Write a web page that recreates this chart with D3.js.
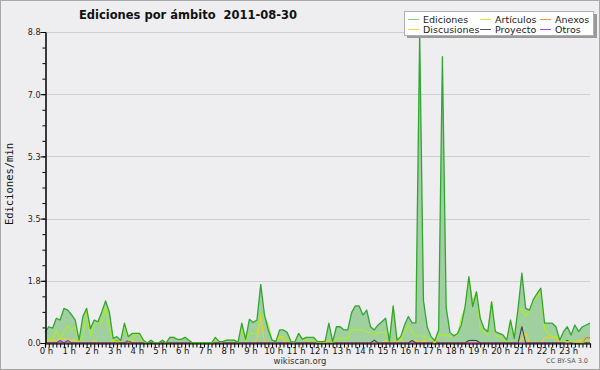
<!DOCTYPE html>
<html><head><meta charset="utf-8">
<script src="https://cdn.jsdelivr.net/npm/d3@7"></script>
<style>
html,body{margin:0;padding:0;background:#eeeef0;}
svg{display:block;}
text{font-family:"DejaVu Sans",sans-serif;}
</style></head>
<body>
<svg id="chart" width="600" height="370"></svg>
<script>
// ---- data (10-minute steps, 0 h .. 24 h) ----
const title = "Ediciones por ámbito  2011-08-30";
const yLabel = "Ediciones/min";
const hourLabels = d3.range(24).map(h => h + " h");
const yTicks = [0, 1.76, 3.52, 5.28, 7.04, 8.8];
const yTickLabels = ["0.0", "1.8", "3.5", "5.3", "7.0", "8.8"];
const seriesNames = ["Ediciones", "Artículos", "Anexos", "Discusiones", "Proyecto", "Otros"];

const ediciones = [0.3,0.46,0.42,0.7,0.65,0.98,0.93,0.8,0.65,0.08,0.75,0.98,0.41,0.65,0.6,0.88,1.19,0.88,0.13,0.18,
  0.07,0.56,0.18,0.27,0.27,0.27,0.08,0,0.08,0,0,0.08,0,0.16,0.16,0.1,0.1,0.16,0.08,0,
  0,0,0,0,0,0.16,0.04,0.04,0.08,0.08,0.08,0.02,0.56,0.1,0.67,0.58,0.65,1.66,0.79,0.37,
  0.08,0.04,0.37,0.37,0.3,0.04,0.02,0.27,0.11,0.16,0.16,0.16,0.04,0.04,0.04,0.56,0.04,0.46,0.46,0.37,
  0.37,0.86,1.05,1.05,0.79,0.93,0.46,0.37,0.51,0.6,0.7,0.04,1.05,0.08,0.18,0.51,0.75,0.57,0.57,8.75,
  1.2,0.45,0.18,0.07,0.37,8.1,1.0,0.3,0.2,0.27,0.51,1.03,1.88,1.03,1.45,0.7,0.41,0.32,1.16,0.32,
  0.27,0.23,0.08,0.65,0.13,0.98,1.98,0.98,0.93,1.22,1.4,1.55,0.56,0.56,0.56,0.46,0.08,0.32,0.46,0.23,
  0.51,0.32,0.46,0.51,0.56];
const articulos = [0.08,0.13,0.1,0.37,0.1,0.32,0.48,0.37,0.46,0.04,0.18,0.89,0.18,0.51,0.56,0.56,1.03,0.4,0.04,0.06,
  0.04,0.51,0.08,0.08,0.27,0.18,0.04,0,0.08,0,0,0.08,0,0.16,0.16,0.1,0.1,0.16,0.08,0,
  0,0,0,0,0,0.1,0.04,0.04,0.08,0.08,0.08,0.02,0.42,0.04,0.27,0.27,0.27,0.84,0.75,0.5,
  0.08,0.04,0.18,0.18,0.1,0.04,0.02,0.27,0.11,0.08,0.08,0.08,0.02,0.02,0.02,0.04,0.02,0.13,0.13,0.13,
  0.13,0.37,0.37,0.37,0.37,0.3,0.3,0.23,0.3,0.3,0.32,0.04,1.03,0.04,0.1,0.3,0.51,0.3,0.2,0.2,
  0.2,0.13,0.1,0,0.23,0.23,0.23,0.18,0.23,0.23,0.7,1.0,1.8,1.17,1.45,0.4,0.3,0.25,1.17,0.2,
  0.18,0.08,0.05,0.56,0.13,0.89,0.98,0.75,0.9,1.22,1.3,1.45,0.4,0.25,0.2,0.18,0.13,0.04,0.04,0.04,
  0.02,0.02,0,0.08,0.08];
const anexos = new Array(145).fill(0);
anexos[103] = 0.07; anexos[143] = 0.15; anexos[144] = 0.15;
const discusiones = new Array(145).fill(0);
[[0,0.08],[1,0.08],[2,0.08],[3,0.08],[4,0.1],[5,0.13],[6,0.08],[7,0.08],[8,0.08],[13,0.08],[18,0.08],[23,0.08],
 [56,0.1],[57,0.74],[62,0.2],[63,0.08],[74,0.08],[90,0.08],[93,0.15],[94,0.13],[98,0.08],[100,0.08],
 [126,0.1],[127,0.27],[132,0.15],[133,0.15],[134,0.15],[135,0.15],[141,0.08],[142,0.08]].forEach(([i,v]) => discusiones[i] = v);
const proyecto = new Array(145).fill(0);
[[87,0.08],[97,0.07],[112,0.07],[113,0.08],[114,0.07],[126,0.46],[138,0.07]].forEach(([i,v]) => proyecto[i] = v);
const otros = new Array(145).fill(0);
[[4,0.07],[6,0.07],[19,0.07],[22,0.07]].forEach(([i,v]) => otros[i] = v);

// ---- drawing ----
const svg = d3.select("#chart");
const W = 600, H = 370;
const m = {left: 45, right: 10, top: 32, bottom: 27};
const x = d3.scaleLinear().domain([0, 24]).range([m.left, W - m.right]);
const y = d3.scaleLinear().domain([0, 8.8]).range([H - m.bottom, m.top]);
const tOf = i => i / 6;

svg.append("rect").attr("x",0.5).attr("y",0.5).attr("width",W-1).attr("height",H-1)
  .attr("fill","#eeeef0").attr("stroke","#a8a8a8");

// grid
svg.append("g").selectAll("line").data(yTicks.slice(1)).join("line")
  .attr("x1", m.left).attr("x2", W - m.right)
  .attr("y1", d => Math.round(y(d)) + 0.5).attr("y2", d => Math.round(y(d)) + 0.5)
  .attr("stroke", "#cfcfd2").attr("stroke-width", 1);

// area + lines
const area = d3.area().x((d,i) => x(tOf(i))).y0(y(0)).y1(d => y(d));
const line = d3.line().x((d,i) => x(tOf(i))).y(d => y(d));
svg.append("path").datum(ediciones).attr("d", area).attr("fill", "#a0cfa0");

const lines = [
  {data: discusiones, color: "#ffcc22"},
  {data: anexos, color: "#ff6a3a"},
  {data: otros, color: "#8a2be2"},
  {data: proyecto, color: "#444444"},
  {data: articulos, color: "#aaf020"},
  {data: ediciones, color: "#33a533"}
];
lines.forEach(s => {
  svg.append("path").datum(s.data).attr("d", line).attr("fill", "none")
    .attr("stroke", s.color).attr("stroke-width", s.data === ediciones ? 1.3 : 1.1)
    .attr("stroke-linejoin", "round");
});

// y axis
const yAxis = d3.axisLeft(y).tickValues(d3.range(0, 21).map(k => k * 0.44))
  .tickSize(3).tickFormat("");
const gy = svg.append("g").attr("transform", `translate(${m.left + 0.5},0)`).call(yAxis);
gy.select(".domain").attr("stroke", "#000");
gy.selectAll(".tick line").attr("stroke", "#000");
const yMajor = d3.axisLeft(y).tickValues(yTicks).tickSize(5)
  .tickFormat((d,i) => yTickLabels[i]);
const gy2 = svg.append("g").attr("transform", `translate(${m.left + 0.5},0)`).call(yMajor);
gy2.select(".domain").attr("stroke", "#000");
gy2.selectAll(".tick line").attr("stroke", "#000");
gy2.selectAll(".tick text").style("font-family", "DejaVu Sans").style("font-size", "8px")
  .attr("fill", "#222").attr("x", -5).attr("dy", "0.35em");

// x axis
const xAxis = d3.axisBottom(x).tickValues(d3.range(0, 145).map(i => i / 6)).tickSize(4).tickFormat("");
const gx = svg.append("g").attr("transform", `translate(0,${y(0) + 0.5})`).call(xAxis);
gx.select(".domain").attr("stroke", "#000").attr("stroke-width", 1.2);
gx.selectAll(".tick line").attr("stroke", "#000");
svg.append("g").selectAll("text").data(hourLabels).join("text")
  .attr("x", (d,i) => x(i) + 1.5).attr("y", 354)
  .attr("text-anchor", "middle").style("font-size", "8.5px").attr("fill", "#111").text(d => d);

// labels
svg.append("text").attr("x", 188).attr("y", 19).attr("text-anchor", "middle")
  .style("white-space", "pre")
  .attr("font-weight", "bold").style("font-size", "11.5px").attr("fill", "#111").text(title);
svg.append("text").attr("transform", "translate(13,184) rotate(-90)").attr("text-anchor", "middle")
  .style("font-family", "'DejaVu Sans Mono', monospace").style("font-size", "10.5px").attr("fill", "#111").text(yLabel);
svg.append("text").attr("x", 300).attr("y", 364).attr("text-anchor", "middle")
  .style("font-size", "8.5px").attr("fill", "#333").text("wikiscan.org");
svg.append("text").attr("x", 588).attr("y", 363).attr("text-anchor", "end")
  .style("font-size", "6.5px").attr("fill", "#555").text("CC BY-SA 3.0");

// legend
const lg = svg.append("g");
lg.append("rect").attr("x", 407).attr("y", 14).attr("width", 190).attr("height", 24).attr("fill", "#9a9a9a");
lg.append("rect").attr("x", 404.5).attr("y", 11.5).attr("width", 189).attr("height", 24)
  .attr("fill", "#fff").attr("stroke", "#b0b0b0");
const legendItems = [
  {name: seriesNames[0], color: "#7fcf7f", lx: 408, ty: 19},
  {name: seriesNames[1], color: "#c8f040", lx: 480, ty: 19},
  {name: seriesNames[2], color: "#ff8a5a", lx: 540, ty: 19},
  {name: seriesNames[3], color: "#ffd24a", lx: 408, ty: 29},
  {name: seriesNames[4], color: "#555555", lx: 480, ty: 29},
  {name: seriesNames[5], color: "#9a4cf0", lx: 540, ty: 29}
];
legendItems.forEach(it => {
  lg.append("line").attr("x1", it.lx).attr("x2", it.lx + 11).attr("y1", it.ty + 0.5).attr("y2", it.ty + 0.5)
    .attr("stroke", it.color).attr("stroke-width", 1);
  lg.append("text").attr("x", it.lx + 15).attr("y", it.ty + 3.5).style("font-size", "9.5px")
    .attr("fill", "#222").text(it.name);
});
</script>
</body></html>
